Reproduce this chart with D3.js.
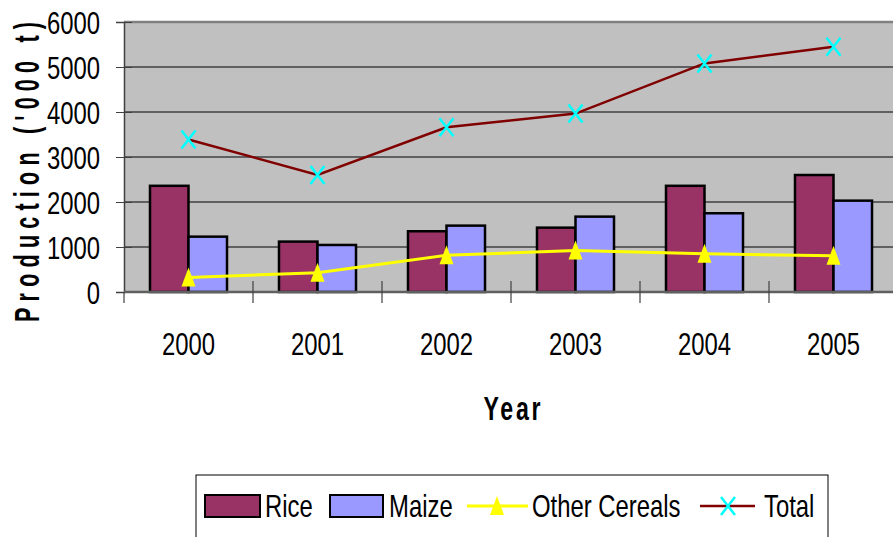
<!DOCTYPE html>
<html>
<head>
<meta charset="utf-8">
<script src="https://cdnjs.cloudflare.com/ajax/libs/d3/7.8.5/d3.min.js"></script>
<style>
  body { margin: 0; background: #fff; }
  text { font-family: "Liberation Sans", Arial, sans-serif; fill: #000; }
</style>
</head>
<body>
<div id="chart"></div>
<script>
// data
var years = ["2000", "2001", "2002", "2003", "2004", "2005"];
var rice = [2360, 1120, 1350, 1430, 2360, 2600];
var maize = [1230, 1045, 1475, 1675, 1750, 2030];
var otherCereals = [320, 430, 815, 920, 850, 805];
var total = [3390, 2600, 3660, 3965, 5080, 5450];
var yTicks = [0, 1000, 2000, 3000, 4000, 5000, 6000];
var barSeries = ["Rice", "Maize"];

var W = 893, H = 537;
var plotL = 124, plotT = 22, plotB = 292, plotR = 898;
var squeeze = 0.77; // condensed font look

var svg = d3.select("#chart").append("svg")
  .attr("width", W).attr("height", H);

var x = d3.scaleBand().domain(years).range([plotL, plotR]).padding(0);
var x1 = d3.scaleBand().domain(barSeries).range([0, x.bandwidth()]).paddingInner(0).paddingOuter(0.675);
var y = d3.scaleLinear().domain([0, 6000]).range([plotB, plotT]);

// condensed text helper
function label(parent, tx, ty, str, size, anchor) {
  var g = parent.append("g").attr("transform", "translate(" + tx + "," + ty + ") scale(" + squeeze + ",1)");
  return g.append("text").attr("text-anchor", anchor || "start")
    .style("font-size", size + "px").text(str);
}

// plot background
svg.append("rect")
  .attr("x", plotL).attr("y", plotT)
  .attr("width", plotR - plotL).attr("height", plotB - plotT)
  .attr("fill", "#c0c0c0");

// gridlines
svg.selectAll(".grid").data(yTicks.filter(function(d) { return d > 0 && d < 6000; }))
  .enter().append("line")
  .attr("x1", plotL).attr("x2", plotR)
  .attr("y1", function(d) { return y(d); }).attr("y2", function(d) { return y(d); })
  .attr("stroke", "#000").attr("stroke-width", 1);

// top border
svg.append("line").attr("x1", plotL).attr("x2", plotR)
  .attr("y1", y(6000)).attr("y2", y(6000))
  .attr("stroke", "#808080").attr("stroke-width", 2.5);

// bars
var colors = { Rice: "#993366", Maize: "#9999ff" };
var barData = [];
years.forEach(function(yr, i) {
  barData.push({ year: yr, key: "Rice", value: rice[i] });
  barData.push({ year: yr, key: "Maize", value: maize[i] });
});
svg.selectAll(".bar").data(barData).enter().append("rect")
  .attr("x", function(d) { return x(d.year) + x1(d.key); })
  .attr("y", function(d) { return y(d.value); })
  .attr("width", x1.bandwidth())
  .attr("height", function(d) { return y(0) - y(d.value); })
  .attr("fill", function(d) { return colors[d.key]; })
  .attr("stroke", "#000").attr("stroke-width", 2.5);

// y axis
var yAxis = svg.append("g").attr("transform", "translate(" + plotL + ",0)")
  .call(d3.axisLeft(y).tickValues(yTicks).tickSize(8).tickFormat(d3.format("d")));
yAxis.select(".domain").attr("stroke", "#404040").attr("stroke-width", 1.5);
yAxis.selectAll(".tick line").attr("x1", 8).attr("stroke", "#404040");
yAxis.selectAll(".tick text")
  .attr("x", -24 / squeeze).attr("dy", "0.36em")
  .attr("transform", "scale(" + squeeze + ",1)")
  .style("font-size", "31px");

// x axis
var xAxis = svg.append("g").attr("transform", "translate(0," + plotB + ")");
xAxis.append("line").attr("x1", plotL).attr("x2", plotR)
  .attr("stroke", "#606060").attr("stroke-width", 2.5);
var bounds = years.map(function(d) { return x(d); }).concat([plotR]);
xAxis.selectAll(".xt").data(bounds).enter().append("line")
  .attr("x1", function(d) { return d; }).attr("x2", function(d) { return d; })
  .attr("y1", function(d, i) { return i === 0 ? 0 : -11; }).attr("y2", 11)
  .attr("stroke", "#404040").attr("stroke-width", 1.2);
years.forEach(function(d) {
  label(xAxis, x(d) + x.bandwidth() / 2, 63, d, 31, "middle");
});

// lines
var cx = function(i) { return x(years[i]) + x.bandwidth() / 2; };
var line = d3.line().x(function(d, i) { return cx(i); }).y(function(d) { return y(d); });

svg.append("path").datum(otherCereals).attr("d", line)
  .attr("fill", "none").attr("stroke", "#ffff00").attr("stroke-width", 3);
svg.append("path").datum(total).attr("d", line)
  .attr("fill", "none").attr("stroke", "#800000").attr("stroke-width", 2.5);

var triPath = "M0,-10L7,9L-7,9Z";
svg.selectAll(".tri").data(otherCereals).enter().append("path")
  .attr("d", triPath)
  .attr("transform", function(d, i) { return "translate(" + cx(i) + "," + y(d) + ")"; })
  .attr("fill", "#ffff00");

var crossPath = "M-7,-9L7,9M-7,9L7,-9";
svg.selectAll(".cross").data(total).enter().append("path")
  .attr("d", crossPath)
  .attr("transform", function(d, i) { return "translate(" + cx(i) + "," + y(d) + ")"; })
  .attr("stroke", "#00ffff").attr("stroke-width", 2.5).attr("fill", "none");

// axis titles (condensed, spaced out)
var yt = svg.append("g").attr("transform", "translate(39,172) rotate(-90) scale(0.6,1)");
yt.append("text").attr("text-anchor", "middle")
  .style("font-weight", "bold").style("font-size", "36px")
  .attr("textLength", 300 / 0.6).attr("lengthAdjust", "spacing")
  .text("Production ('000 t)");

var xt = svg.append("g").attr("transform", "translate(512,420) scale(0.68,1)");
xt.append("text").attr("text-anchor", "middle")
  .style("font-weight", "bold").style("font-size", "34px")
  .attr("textLength", 57 / 0.68).attr("lengthAdjust", "spacing")
  .text("Year");

// legend
var lg = svg.append("g");
lg.append("rect").attr("x", 196).attr("y", 475).attr("width", 632).attr("height", 80)
  .attr("fill", "#fff").attr("stroke", "#000").attr("stroke-width", 1);
var ly = 506;
lg.append("rect").attr("x", 205).attr("y", 495).attr("width", 55).attr("height", 22)
  .attr("fill", colors.Rice).attr("stroke", "#000").attr("stroke-width", 2);
label(lg, 265, ly + 11, "Rice", 31);
lg.append("rect").attr("x", 330).attr("y", 495).attr("width", 53).attr("height", 22)
  .attr("fill", colors.Maize).attr("stroke", "#000").attr("stroke-width", 2);
label(lg, 389, ly + 11, "Maize", 31);
lg.append("line").attr("x1", 467).attr("x2", 528).attr("y1", ly).attr("y2", ly)
  .attr("stroke", "#ffff00").attr("stroke-width", 3);
lg.append("path").attr("d", triPath).attr("transform", "translate(497," + ly + ")").attr("fill", "#ffff00");
label(lg, 532, ly + 11, "Other Cereals", 31);
lg.append("line").attr("x1", 700).attr("x2", 755).attr("y1", ly).attr("y2", ly)
  .attr("stroke", "#800000").attr("stroke-width", 2.5);
lg.append("path").attr("d", crossPath).attr("transform", "translate(728," + ly + ")")
  .attr("stroke", "#00ffff").attr("stroke-width", 2.5).attr("fill", "none");
label(lg, 764, ly + 11, "Total", 31);
</script>
</body>
</html>
